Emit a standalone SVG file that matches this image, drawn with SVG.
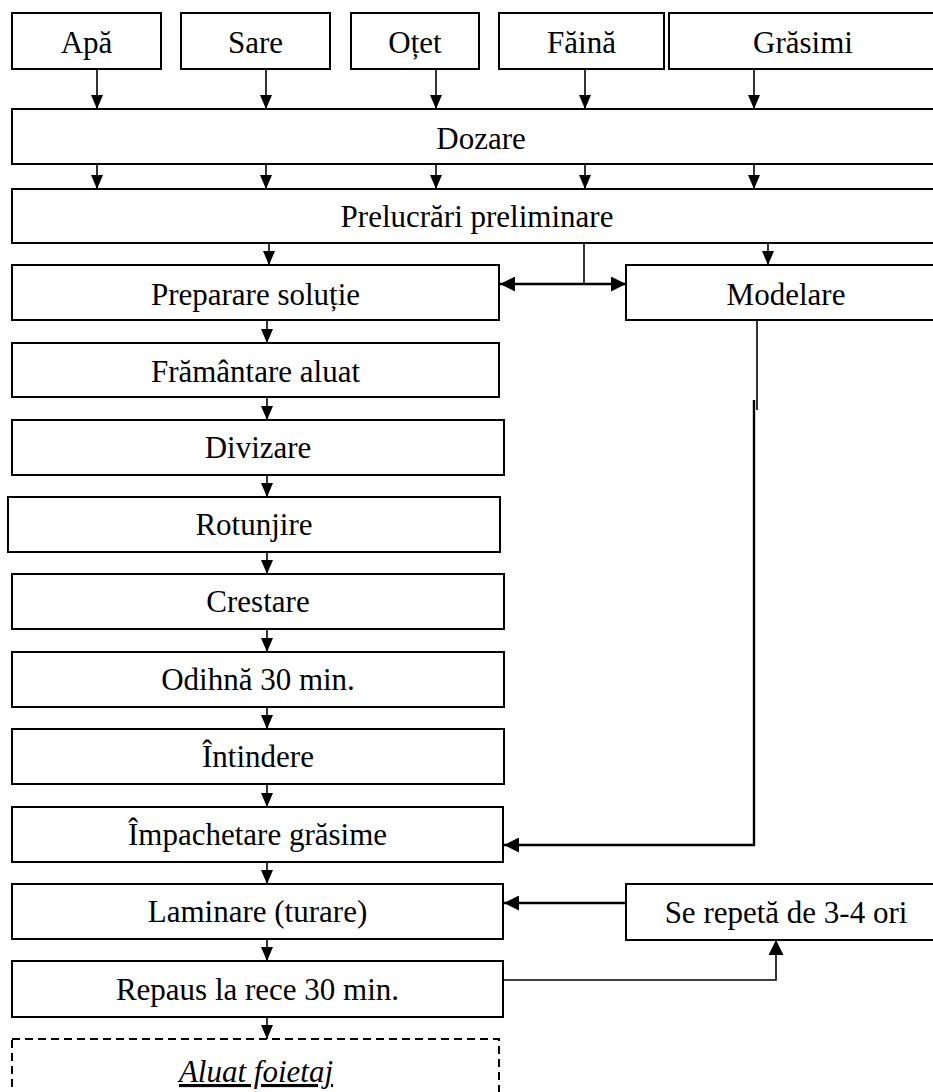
<svg xmlns="http://www.w3.org/2000/svg" width="933" height="1092" viewBox="0 0 933 1092">
  <style>
    .box { fill: #fff; stroke: #000; stroke-width: 2; }
    .dash { fill: none; stroke: #000; stroke-width: 2; stroke-dasharray: 8 5; }
    .lbl { font-family: "Liberation Serif", "Times New Roman", serif; font-size: 31px; fill: #000; text-anchor: middle; }
    .it { font-style: italic; text-decoration: underline; }
    .flow { fill: none; stroke: #000; stroke-width: 1.6; }
    .feed { fill: none; stroke: #000; stroke-width: 2.4; }
  </style>
  <defs>
    <marker id="arr" viewBox="0 0 14 12" refX="14" refY="6" markerWidth="14" markerHeight="12" markerUnits="userSpaceOnUse" orient="auto">
      <path d="M0,0 L14,6 L0,12 z" fill="#000"/>
    </marker>
    <marker id="arrBig" viewBox="0 0 15 15" refX="15" refY="7.5" markerWidth="15" markerHeight="15" markerUnits="userSpaceOnUse" orient="auto">
      <path d="M0,0 L15,7.5 L0,15 z" fill="#000"/>
    </marker>
  </defs>

  <rect width="933" height="1092" fill="#fff"/>

  <!-- raw materials -->
  <g id="apa"><rect class="box" x="12" y="13" width="149" height="56"/><text class="lbl" x="86.5" y="53">Apă</text></g>
  <g id="sare"><rect class="box" x="181" y="13" width="149" height="56"/><text class="lbl" x="255.5" y="53">Sare</text></g>
  <g id="otet"><rect class="box" x="351" y="13" width="128" height="56"/><text class="lbl" x="415" y="53">Oțet</text></g>
  <g id="faina"><rect class="box" x="499" y="13" width="165" height="56"/><text class="lbl" x="581.5" y="53">Făină</text></g>
  <g id="grasimi"><rect class="box" x="669" y="13" width="268" height="56"/><text class="lbl" x="803" y="53">Grăsimi</text></g>

  <!-- common stages -->
  <g id="dozare"><rect class="box" x="12" y="109" width="938" height="55"/><text class="lbl" x="481" y="149">Dozare</text></g>
  <g id="prelucrari"><rect class="box" x="12" y="189" width="930" height="54"/><text class="lbl" x="477" y="227">Prelucrări preliminare</text></g>

  <!-- main line -->
  <g id="preparare"><rect class="box" x="12" y="265" width="487" height="55"/><text class="lbl" x="255.5" y="305">Preparare soluție</text></g>
  <g id="modelare"><rect class="box" x="626" y="265" width="320" height="55"/><text class="lbl" x="786" y="305">Modelare</text></g>
  <g id="framantare"><rect class="box" x="12" y="343" width="487" height="54"/><text class="lbl" x="255.5" y="382">Frământare aluat</text></g>
  <g id="divizare"><rect class="box" x="12" y="420" width="492" height="55"/><text class="lbl" x="258" y="458">Divizare</text></g>
  <g id="rotunjire"><rect class="box" x="8" y="497" width="492" height="55"/><text class="lbl" x="254" y="535">Rotunjire</text></g>
  <g id="crestare"><rect class="box" x="12" y="574" width="492" height="55"/><text class="lbl" x="258" y="612">Crestare</text></g>
  <g id="odihna"><rect class="box" x="12" y="652" width="492" height="55"/><text class="lbl" x="258" y="690">Odihnă 30 min.</text></g>
  <g id="intindere"><rect class="box" x="12" y="729" width="492" height="55"/><text class="lbl" x="258" y="767">Întindere</text></g>
  <g id="impachetare"><rect class="box" x="12" y="807" width="491" height="55"/><text class="lbl" x="257.5" y="845">Împachetare grăsime</text></g>
  <g id="laminare"><rect class="box" x="12" y="884" width="491" height="55"/><text class="lbl" x="257.5" y="922">Laminare (turare)</text></g>
  <g id="repetare"><rect class="box" x="626" y="884" width="320" height="56"/><text class="lbl" x="786" y="923">Se repetă de 3-4 ori</text></g>
  <g id="repaus"><rect class="box" x="12" y="961" width="491" height="56"/><text class="lbl" x="257.5" y="1000">Repaus la rece 30 min.</text></g>
  <g id="aluat-foietaj"><rect class="dash" x="12" y="1039" width="487" height="70"/><text class="lbl it" x="256" y="1082">Aluat foietaj</text></g>

  <!-- connectors -->
  <g id="connectors">
    <!-- raw materials to dosing -->
    <line class="flow" x1="97" y1="69" x2="97" y2="109" marker-end="url(#arr)"/>
    <line class="flow" x1="266" y1="69" x2="266" y2="109" marker-end="url(#arr)"/>
    <line class="flow" x1="436" y1="69" x2="436" y2="109" marker-end="url(#arr)"/>
    <line class="flow" x1="585" y1="69" x2="585" y2="109" marker-end="url(#arr)"/>
    <line class="flow" x1="754" y1="69" x2="754" y2="109" marker-end="url(#arr)"/>
    <!-- dosing to preliminary processing -->
    <line class="flow" x1="97" y1="164" x2="97" y2="189" marker-end="url(#arr)"/>
    <line class="flow" x1="266" y1="164" x2="266" y2="189" marker-end="url(#arr)"/>
    <line class="flow" x1="436" y1="164" x2="436" y2="189" marker-end="url(#arr)"/>
    <line class="flow" x1="585" y1="164" x2="585" y2="189" marker-end="url(#arr)"/>
    <line class="flow" x1="754" y1="164" x2="754" y2="189" marker-end="url(#arr)"/>
    <!-- preliminary processing split -->
    <line class="flow" x1="269" y1="243" x2="269" y2="265" marker-end="url(#arr)"/>
    <line class="flow" x1="768" y1="243" x2="768" y2="265" marker-end="url(#arr)"/>
    <line class="flow" x1="584" y1="243" x2="584" y2="284"/>
    <line class="feed" x1="584" y1="284" x2="500" y2="284" marker-end="url(#arrBig)"/>
    <line class="feed" x1="584" y1="284" x2="626" y2="284" marker-end="url(#arrBig)"/>
    <!-- main column -->
    <line class="flow" x1="267" y1="320" x2="267" y2="343" marker-end="url(#arr)"/>
    <line class="flow" x1="267" y1="397" x2="267" y2="420" marker-end="url(#arr)"/>
    <line class="flow" x1="267" y1="475" x2="267" y2="497" marker-end="url(#arr)"/>
    <line class="flow" x1="267" y1="552" x2="267" y2="574" marker-end="url(#arr)"/>
    <line class="flow" x1="267" y1="629" x2="267" y2="652" marker-end="url(#arr)"/>
    <line class="flow" x1="267" y1="707" x2="267" y2="729" marker-end="url(#arr)"/>
    <line class="flow" x1="267" y1="784" x2="267" y2="807" marker-end="url(#arr)"/>
    <line class="flow" x1="267" y1="862" x2="267" y2="884" marker-end="url(#arr)"/>
    <line class="flow" x1="267" y1="939" x2="267" y2="961" marker-end="url(#arr)"/>
    <line class="flow" x1="267" y1="1017" x2="267" y2="1039" marker-end="url(#arr)"/>
    <!-- shaped fat from Modelare into packing -->
    <line class="flow" x1="757" y1="320" x2="757" y2="410"/>
    <polyline class="feed" points="754,400 754,845 504,845" marker-end="url(#arrBig)"/>
    <!-- repetition loop -->
    <line class="feed" x1="626" y1="903" x2="504" y2="903" marker-end="url(#arrBig)"/>
    <polyline class="flow" points="503,980 776,980 776,940" marker-end="url(#arrBig)"/>
  </g>
</svg>
